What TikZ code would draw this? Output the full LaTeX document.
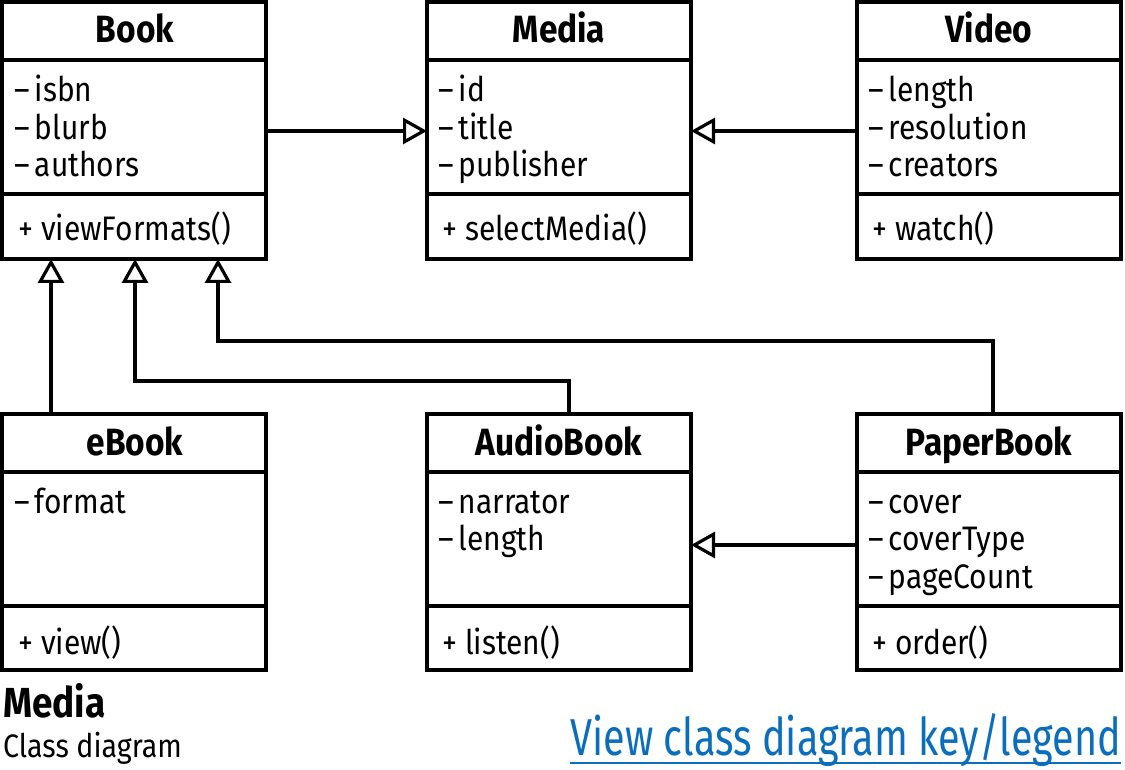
\documentclass[tikz,border=0pt]{standalone}
\usepackage{fontspec}
\setmainfont{Fira Sans}[FakeStretch=0.88]
\newfontfamily\linkfont{Fira Sans}[FakeStretch=0.76]
\usetikzlibrary{arrows.meta}
\definecolor{linkblue}{HTML}{0A6EBD}
\newcommand\mydash{–\kern5pt}
\tikzset{
  cls/.style={draw, line width=3.5pt, minimum width=264pt, inner sep=0pt, outer sep=0pt, anchor=north west},
  hdr/.style={font=\fontsize{38}{40}\selectfont\bfseries, anchor=base, inner sep=0pt},
  attr/.style={font=\fontsize{34}{37.5}\selectfont, anchor=base west, inner sep=0pt},
  sep/.style={line width=3.5pt},
  gen/.style={line width=3.2pt, -{Triangle[open, length=24pt, width=26pt, line width=3.2pt]}},
}
\begin{document}
\begin{tikzpicture}[x=1pt,y=-1pt]
\useasboundingbox (0,0) rectangle (1125,770);
% ---- top row
\node[cls, minimum height=257pt] (book) at (2,2) {};
\node[cls, minimum height=257pt] (media) at (427,2) {};
\node[cls, minimum height=257pt] (video) at (857,2) {};
% ---- bottom row
\node[cls, minimum height=256pt] (ebook) at (2,414) {};
\node[cls, minimum height=256pt] (audio) at (427,414) {};
\node[cls, minimum height=256pt] (paper) at (857,414) {};
% separators
\foreach \b in {book,media,video}{
  \draw[sep] (\b.west |- 0,60) -- (\b.east |- 0,60);
  \draw[sep] (\b.west |- 0,194) -- (\b.east |- 0,194);
}
\foreach \b in {ebook,audio,paper}{
  \draw[sep] (\b.west |- 0,472) -- (\b.east |- 0,472);
  \draw[sep] (\b.west |- 0,606) -- (\b.east |- 0,606);
}
% headers
\node[hdr] (tbook) at (135,43) {Book};
\node[hdr] (tmedia) at (559,43) {Media};
\node[hdr] (tvideo) at (989,43) {Video};
\node[hdr] (tebook) at (135,455) {eBook};
\node[hdr] (taudio) at (559,455) {AudioBook};
\node[hdr] (tpaper) at (989,455) {PaperBook};
% attributes
\node[attr] (abook1) at (14,102) {\mydash isbn};
\node[attr] (abook2) at (14,139.5) {\mydash blurb};
\node[attr] (abook3) at (14,177) {\mydash authors};
\node[attr] (amedia1) at (438,102) {\mydash id};
\node[attr] (amedia2) at (438,139.5) {\mydash title};
\node[attr] (amedia3) at (438,177) {\mydash publisher};
\node[attr] (avideo1) at (868,102) {\mydash length};
\node[attr] (avideo2) at (868,139.5) {\mydash resolution};
\node[attr] (avideo3) at (868,177) {\mydash creators};
\node[attr] (aebook1) at (14,513) {\mydash format};
\node[attr] (aaudio1) at (438,513) {\mydash narrator};
\node[attr] (aaudio2) at (438,550.5) {\mydash length};
\node[attr] (apaper1) at (868,513) {\mydash cover};
\node[attr] (apaper2) at (868,550.5) {\mydash coverType};
\node[attr] (apaper3) at (868,588) {\mydash pageCount};
% methods
\node[attr] (mbook) at (18,241) {+ viewFormats()};
\node[attr] (mmedia) at (442,241) {+ selectMedia()};
\node[attr] (mvideo) at (872,241) {+ watch()};
\node[attr] (mebook) at (18,654) {+ view()};
\node[attr] (maudio) at (442,654) {+ listen()};
\node[attr] (mpaper) at (872,654) {+ order()};
% connectors
\draw[gen] (book.east |- 0,131) -- (media.west |- 0,131);
\draw[gen] (video.west |- 0,131) -- (media.east |- 0,131);
\draw[gen] (ebook.north -| 51,0) -- (book.south -| 51,0);
\draw[gen] (audio.north -| 569,0) -- (569,381) -- (135,381) -- (book.south -| 135,0);
\draw[gen] (paper.north -| 993,0) -- (993,341) -- (218,341) -- (book.south -| 218,0);
\draw[gen] (paper.west |- 0,545) -- (audio.east |- 0,545);
% captions
\node[font=\fontsize{42}{44}\selectfont\bfseries, anchor=base west, inner sep=0pt] (cap) at (3,717) {Media};
\node[font=\fontsize{32.5}{34}\selectfont, anchor=base west, inner sep=0pt] (sub) at (3,757) {Class diagram};
\node[font=\linkfont\fontsize{52}{54}\selectfont, text=linkblue, anchor=base east, inner sep=0pt] (link) at (1121,755) {View class diagram key/legend};
\draw[linkblue, line width=2.5pt] ([yshift=-8pt]link.base west) -- ([yshift=-8pt]link.base east);
\end{tikzpicture}
\end{document}
